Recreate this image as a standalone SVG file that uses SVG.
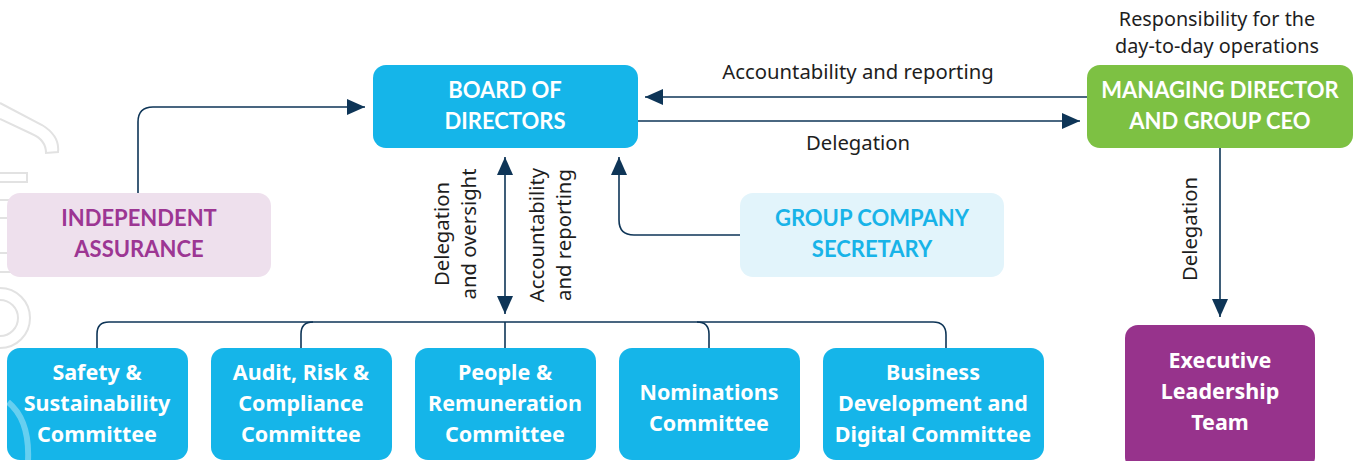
<svg xmlns="http://www.w3.org/2000/svg" width="1354" height="461" viewBox="0 0 1354 461">
<defs>
<style>
.t{font-family:Lato,"Noto Sans","Liberation Sans",sans-serif;font-weight:700;font-size:22px;text-anchor:middle}
.m{font-family:"Noto Sans","Liberation Sans",sans-serif;font-weight:700;font-size:21.5px;text-anchor:middle;fill:#ffffff}
.w{fill:#ffffff}
.lbl{font-family:"Noto Sans","Liberation Sans",sans-serif;font-size:20.3px;fill:#1e1e1e;text-anchor:middle}
.lbl.s{font-size:19.8px}
.c{fill:none;stroke:#0e3557;stroke-width:1.6}
.blue{fill:#15b5e9}
.wm{fill:none;stroke:#e2e2e2;stroke-width:2}
</style>
<marker id="ah" viewBox="0 0 18 16" refX="18" refY="8" markerWidth="18" markerHeight="16" markerUnits="userSpaceOnUse" orient="auto-start-reverse">
<path d="M0,0 L18,8 L0,16 Z" fill="#0e3557"/>
</marker>
</defs>
<rect width="1354" height="461" fill="#ffffff"/>
<g id="watermark">
<path class="wm" d="M0,103 L42,125 Q60,136 58,152 L46,153 Q46,140 32,134 L0,119"/>
<path class="wm" d="M0,173 H27 V182 H0"/>
<path class="wm" d="M0,200 H27 V218 H0"/>
<path class="wm" d="M0,253 H27 V272 H0"/>
<path class="wm" d="M0,288 A30,30 0 0 1 0,348"/>
<path class="wm" d="M0,300 A18,18 0 0 1 0,336"/>
</g>
<g id="connectors">
<path class="c" d="M1088,97 H645" marker-end="url(#ah)"/>
<path class="c" d="M637,121 H1080" marker-end="url(#ah)"/>
<path class="c" d="M138,194 V122 Q138,107 153,107 H365" marker-end="url(#ah)"/>
<path class="c" d="M740,235 H634 Q619,235 619,220 V157" marker-end="url(#ah)"/>
<path class="c" d="M505,157 V314" marker-start="url(#ah)" marker-end="url(#ah)"/>
<path class="c" d="M97,348 V334 Q97,322 109,322 H933 Q946,322 946,335 V348"/>
<path class="c" d="M301,348 V334 Q301,322 313,322"/>
<path class="c" d="M697,322 Q709,322 709,334 V348"/>
<path class="c" d="M505,322 V348"/>
<path class="c" d="M1220,148 V317" marker-end="url(#ah)"/>
</g>
<g id="labels">
<text class="lbl s" x="1217" y="26">Responsibility for the</text>
<text class="lbl s" x="1217" y="53">day-to-day operations</text>
<text class="lbl" x="858" y="79">Accountability and reporting</text>
<text class="lbl" x="858" y="150">Delegation</text>
<text class="lbl" transform="translate(449,234) rotate(-90)">Delegation</text>
<text class="lbl" transform="translate(476,234) rotate(-90)">and oversight</text>
<text class="lbl" transform="translate(544,235) rotate(-90)">Accountability</text>
<text class="lbl" transform="translate(571,235) rotate(-90)">and reporting</text>
<text class="lbl" transform="translate(1197,229) rotate(-90)">Delegation</text>
</g>
<g id="board">
<rect x="373" y="65" width="265" height="83" rx="13" class="blue"/>
<text class="t w" x="505" y="98">BOARD OF</text>
<text class="t w" x="505" y="129">DIRECTORS</text>
</g>
<g id="md">
<rect x="1087" y="65" width="266" height="83" rx="13" fill="#7dc143"/>
<text class="t w" x="1220" y="98">MANAGING DIRECTOR</text>
<text class="t w" x="1220" y="129">AND GROUP CEO</text>
</g>
<g id="independent">
<rect x="7" y="193" width="264" height="84" rx="13" fill="#eee0ed"/>
<text class="t" x="139" y="226" fill="#9c3693">INDEPENDENT</text>
<text class="t" x="139" y="257" fill="#9c3693">ASSURANCE</text>
</g>
<g id="secretary">
<rect x="740" y="193" width="264" height="84" rx="13" fill="#e2f4fb"/>
<text class="t" x="872" y="226" fill="#18b3e8">GROUP COMPANY</text>
<text class="t" x="872" y="257" fill="#18b3e8">SECRETARY</text>
</g>
<g id="safety">
<rect x="7" y="348" width="181" height="112" rx="13" class="blue"/>
<text class="m" x="97" y="380">Safety &amp;</text>
<text class="m" x="97" y="411">Sustainability</text>
<text class="m" x="97" y="442">Committee</text>
</g>
<g id="audit">
<rect x="211" y="348" width="181" height="112" rx="13" class="blue"/>
<text class="m" x="301" y="380">Audit, Risk &amp;</text>
<text class="m" x="301" y="411">Compliance</text>
<text class="m" x="301" y="442">Committee</text>
</g>
<g id="people">
<rect x="415" y="348" width="181" height="112" rx="13" class="blue"/>
<text class="m" x="505" y="380">People &amp;</text>
<text class="m" x="505" y="411">Remuneration</text>
<text class="m" x="505" y="442">Committee</text>
</g>
<g id="nominations">
<rect x="619" y="348" width="181" height="112" rx="13" class="blue"/>
<text class="m" x="709" y="400">Nominations</text>
<text class="m" x="709" y="431">Committee</text>
</g>
<g id="business">
<rect x="823" y="348" width="221" height="112" rx="13" class="blue"/>
<text class="m" x="933" y="380">Business</text>
<text class="m" x="933" y="411">Development and</text>
<text class="m" x="933" y="442">Digital Committee</text>
</g>
<g id="elt">
<rect x="1125" y="325" width="190" height="145" rx="13" fill="#97338c"/>
<text class="m" x="1220" y="368">Executive</text>
<text class="m" x="1220" y="399">Leadership</text>
<text class="m" x="1220" y="430">Team</text>
</g>
<g id="watermark-front">
<path d="M8,402 Q30,420 28,461" fill="none" stroke="#ffffff" stroke-opacity="0.35" stroke-width="6"/>
</g>
</svg>
